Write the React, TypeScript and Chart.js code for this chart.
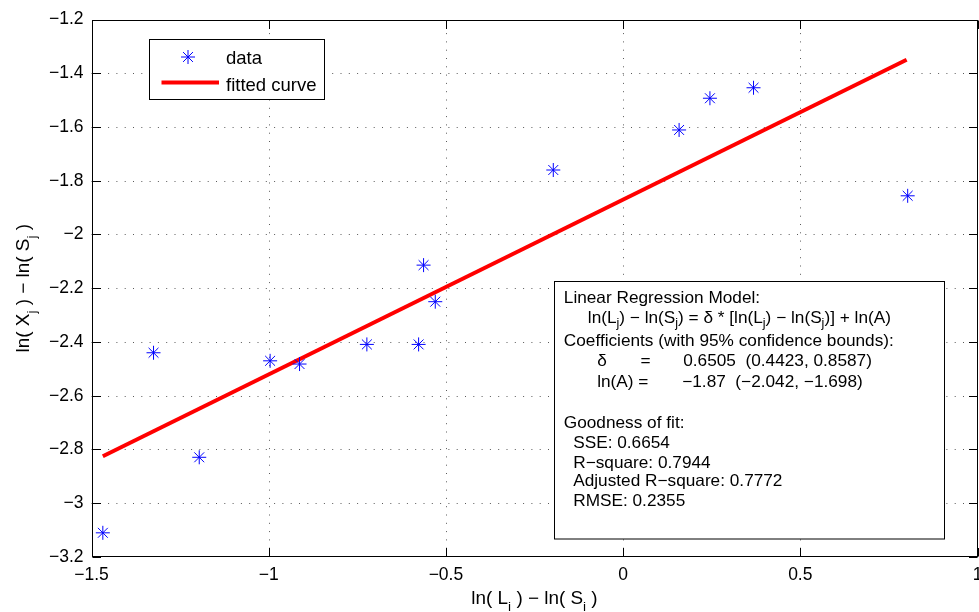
import React, { useEffect, useRef } from 'react';
import { Chart, registerables } from 'chart.js';

Chart.register(...registerables);

// ---------- data ----------
const dataX = [-1.468, -1.325, -1.196, -0.996, -0.913, -0.723, -0.577, -0.563, -0.530, -0.197, 0.158, 0.245, 0.368, 0.803];
const dataY = [-3.110, -2.440, -2.829, -2.470, -2.482, -2.409, -2.409, -2.114, -2.250, -1.760, -1.611, -1.493, -1.454, -1.856];
const fitX = [-1.468, 0.800];
const fitY = [-2.825, -1.350];
const xTickValues = [-1.5, -1, -0.5, 0, 0.5, 1];
const yTickValues = [-3.2, -3, -2.8, -2.6, -2.4, -2.2, -2, -1.8, -1.6, -1.4, -1.2];
const legendLabels = ['data', 'fitted curve'];

type Run = [string, number];
const boxLines: { runs: Run[]; x: number; y: number }[] = [
  { runs: [['Linear Regression Model:', 0]], x: 9.3, y: 21 },
  {
    runs: [['ln(L', 0], ['j', 1], [') \u2212 ln(S', 0], ['j', 1], [') = \u03b4 * [ln(L', 0], ['j', 1], [') \u2212 ln(S', 0], ['j', 1], [')] + ln(A)', 0]],
    x: 33.3, y: 41,
  },
  { runs: [['Coefficients (with 95% confidence bounds):', 0]], x: 9.3, y: 64.3 },
  { runs: [['\u03b4', 0]], x: 42.7, y: 84.3 },
  { runs: [['=', 0]], x: 86, y: 84.3 },
  { runs: [['0.6505  (0.4423, 0.8587)', 0]], x: 128.7, y: 84.3 },
  { runs: [['ln(A) =', 0]], x: 42.7, y: 105 },
  { runs: [['\u22121.87  (\u22122.042, \u22121.698)', 0]], x: 127.7, y: 105 },
  { runs: [['Goodness of fit:', 0]], x: 9.3, y: 146 },
  { runs: [['SSE: 0.6654', 0]], x: 18.7, y: 166 },
  { runs: [['R\u2212square: 0.7944', 0]], x: 18.7, y: 186 },
  { runs: [['Adjusted R\u2212square: 0.7772', 0]], x: 18.7, y: 204.3 },
  { runs: [['RMSE: 0.2355', 0]], x: 18.7, y: 224.3 },
];
const xTitle: Run[] = [['ln( L', 0], ['i', 1], [' ) \u2212 ln( S', 0], ['i', 1], [' )', 0]];
const yTitle: Run[] = [['ln( X', 0], ['j', 1], [' ) \u2212 ln( S', 0], ['j', 1], [' )', 0]];

const FAMILY = '"Liberation Sans", Arial, Helvetica, sans-serif';

const fmt = (v: number) => String(+Number(v).toFixed(2)).replace('-', '\u2212');

function drawRuns(
  ctx: CanvasRenderingContext2D, runs: Run[], x: number, y: number,
  size: number, sx: number, align: 'left' | 'center', subDy: number,
) {
  const main = `${size}px ${FAMILY}`;
  const sub = `${Math.round(size * 0.72)}px ${FAMILY}`;
  let w = 0;
  const widths = runs.map(([t, s]) => {
    ctx.font = s ? sub : main;
    const m = ctx.measureText(t).width * sx;
    w += m;
    return m;
  });
  let cx = align === 'center' ? x - w / 2 : x;
  ctx.textAlign = 'left';
  ctx.textBaseline = 'alphabetic';
  runs.forEach(([t, s], i) => {
    ctx.font = s ? sub : main;
    ctx.save();
    ctx.translate(cx, y + (s ? subDy : 0));
    ctx.scale(sx, 1);
    ctx.fillText(t, 0, 0);
    ctx.restore();
    cx += widths[i];
  });
}

function drawStar(ctx: CanvasRenderingContext2D, x: number, y: number, r: number) {
  const d = r * Math.SQRT1_2;
  ctx.beginPath();
  ctx.moveTo(x - r, y); ctx.lineTo(x + r, y);
  ctx.moveTo(x, y - r); ctx.lineTo(x, y + r);
  ctx.moveTo(x - d, y - d); ctx.lineTo(x + d, y + d);
  ctx.moveTo(x - d, y + d); ctx.lineTo(x + d, y - d);
  ctx.stroke();
}

const matlabPlugin = {
  id: 'matlabDecor',
  beforeDatasetsDraw(chart: any) {
    const { ctx, chartArea: a, scales } = chart;
    const xs = scales.x, ys = scales.y;
    ctx.save();
    ctx.strokeStyle = '#5a5a5a';
    ctx.lineWidth = 1;
    ctx.setLineDash([1, 7.3]);
    xTickValues.forEach((v) => {
      if (v <= xs.min || v >= xs.max) return;
      const px = Math.round(xs.getPixelForValue(v)) + 0.5;
      ctx.beginPath(); ctx.moveTo(px, a.bottom); ctx.lineTo(px, a.top); ctx.stroke();
    });
    yTickValues.forEach((v) => {
      if (v <= ys.min || v >= ys.max) return;
      const py = Math.round(ys.getPixelForValue(v)) + 0.5;
      ctx.beginPath(); ctx.moveTo(a.left, py); ctx.lineTo(a.right, py); ctx.stroke();
    });
    ctx.restore();
  },
  afterDraw(chart: any) {
    const { ctx, chartArea: a, scales } = chart;
    const xs = scales.x, ys = scales.y;
    ctx.save();
    ctx.strokeStyle = '#000';
    ctx.lineWidth = 1;
    ctx.setLineDash([]);
    const L = Math.round(a.left) + 0.5, R = Math.round(a.right) - 0.5;
    const T = Math.round(a.top) + 0.5, B = Math.round(a.bottom) - 0.5;
    ctx.strokeRect(L, T, R - L, B - T);
    const tl = 8.5;
    ctx.beginPath();
    xTickValues.forEach((v) => {
      const px = Math.round(xs.getPixelForValue(v)) + 0.5;
      ctx.moveTo(px, B); ctx.lineTo(px, B - tl);
      ctx.moveTo(px, T); ctx.lineTo(px, T + tl);
    });
    yTickValues.forEach((v) => {
      const py = Math.round(ys.getPixelForValue(v)) + 0.5;
      ctx.moveTo(L, py); ctx.lineTo(L + tl, py);
      ctx.moveTo(R, py); ctx.lineTo(R - tl, py);
    });
    ctx.stroke();

    // legend
    const lx = Math.round(a.left + 57) + 0.5, ly = Math.round(a.top + 19.5) + 0.5;
    const lw = 175, lh = 60;
    ctx.fillStyle = '#fff';
    ctx.fillRect(lx, ly, lw, lh);
    ctx.strokeStyle = '#000';
    ctx.strokeRect(lx, ly, lw, lh);
    const ds0 = chart.data.datasets[0], ds1 = chart.data.datasets[1];
    ctx.strokeStyle = ds0.borderColor;
    ctx.lineWidth = 1;
    drawStar(ctx, lx + 38.5, ly + 17.5, 7);
    ctx.strokeStyle = ds1.borderColor;
    ctx.lineWidth = ds1.borderWidth;
    ctx.beginPath(); ctx.moveTo(lx + 12, ly + 43); ctx.lineTo(lx + 69.5, ly + 43); ctx.stroke();
    ctx.fillStyle = '#000';
    ctx.font = `18.5px ${FAMILY}`;
    ctx.textAlign = 'left';
    ctx.textBaseline = 'alphabetic';
    ctx.fillText(legendLabels[0], lx + 76.5, ly + 24.5);
    ctx.fillText(legendLabels[1], lx + 76.5, ly + 51);

    // annotation box
    const bx = Math.round(a.left + 462.5) + 0.5, by = Math.round(a.top + 261.2) + 0.5;
    const bw = 390, bh = 257.5;
    ctx.fillStyle = '#fff';
    ctx.fillRect(bx, by, bw, bh);
    ctx.strokeStyle = '#000';
    ctx.lineWidth = 1;
    ctx.strokeRect(bx, by, bw, bh);
    ctx.fillStyle = '#000';
    boxLines.forEach((ln) => drawRuns(ctx, ln.runs, bx + ln.x, by + ln.y, 16.5, 1.044, 'left', 4.5));

    // axis titles
    const cx = (a.left + a.right) / 2;
    drawRuns(ctx, xTitle, cx, 603.5, 18, 1.05, 'center', 7.5);
    ctx.save();
    ctx.translate(28.5, (a.top + a.bottom) / 2);
    ctx.rotate(-Math.PI / 2);
    drawRuns(ctx, yTitle, 0, 0, 18, 1.05, 'center', 7);
    ctx.restore();
    ctx.restore();
  },
};

export default function App() {
  const ref = useRef<HTMLCanvasElement | null>(null);
  useEffect(() => {
    if (!ref.current) return;
    const scatterPts = dataX.map((x, i) => ({ x, y: dataY[i] }));
    const fitPts = fitX.map((x, i) => ({ x, y: fitY[i] }));
    const chart = new Chart(ref.current, {
      type: 'scatter',
      data: {
        datasets: [
          {
            label: legendLabels[0],
            data: scatterPts,
            pointStyle: 'star',
            pointRadius: 7,
            pointHoverRadius: 7,
            borderColor: '#0000ff',
            backgroundColor: '#0000ff',
            borderWidth: 1,
            showLine: false,
          },
          {
            label: legendLabels[1],
            type: 'line',
            data: fitPts,
            borderColor: '#ff0000',
            backgroundColor: '#ff0000',
            borderWidth: 4,
            pointRadius: 0,
            showLine: true,
            fill: false,
          } as any,
        ],
      },
      options: {
        animation: false,
        responsive: false,
        devicePixelRatio: 1,
        layout: { autoPadding: false, padding: { top: 19.5, right: 1.5, left: 0, bottom: 0 } },
        plugins: { legend: { display: false }, tooltip: { enabled: false } },
        scales: {
          x: {
            type: 'linear',
            min: -1.5,
            max: 1,
            afterBuildTicks: (s: any) => { s.ticks = xTickValues.map((v) => ({ value: v })); },
            afterFit: (s: any) => {
              s.height = 55;
              s.paddingLeft = 0; s.paddingRight = 0; s.paddingTop = 0; s.paddingBottom = 0;
            },
            grid: { display: false, drawTicks: false },
            border: { display: false },
            ticks: {
              color: '#000',
              padding: 8,
              maxRotation: 0,
              autoSkip: false,
              font: { family: FAMILY, size: 17.5 },
              callback: (v: any) => fmt(v),
            },
          },
          y: {
            type: 'linear',
            min: -3.2,
            max: -1.2,
            afterBuildTicks: (s: any) => { s.ticks = yTickValues.map((v) => ({ value: v })); },
            afterFit: (s: any) => {
              s.width = 91.5;
              s.paddingLeft = 0; s.paddingRight = 0; s.paddingTop = 0; s.paddingBottom = 0;
            },
            grid: { display: false, drawTicks: false },
            border: { display: false },
            ticks: {
              color: '#000',
              padding: 8,
              autoSkip: false,
              font: { family: FAMILY, size: 17.5 },
              callback: (v: any) => fmt(v),
            },
          },
        },
      },
      plugins: [matlabPlugin],
    });
    return () => chart.destroy();
  }, []);

  return (
    <div style={{ position: 'absolute', left: 0, top: 0, width: 979, height: 612, background: '#fff' }}>
      <canvas ref={ref} width={979} height={612} style={{ width: 979, height: 612, display: 'block' }} />
    </div>
  );
}
